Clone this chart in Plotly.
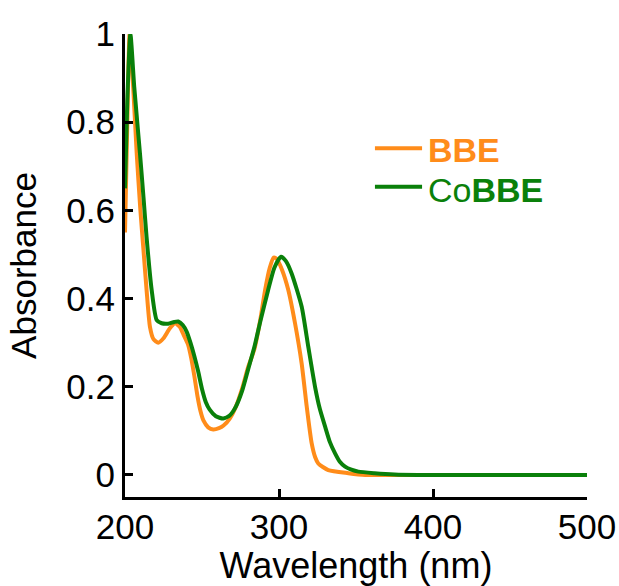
import plotly.graph_objects as go

# ---- data ----
bbe_x = [200, 201.5, 203, 205, 207.6, 210, 212, 214, 216.2, 218.5, 221.6, 225, 229, 232.5,
         235.5, 238, 241, 243, 245, 247, 249, 251, 254, 257.3, 261, 264, 268, 272, 276, 280,
         284, 288, 291, 294, 296.5, 298.5, 302, 306, 310.4, 314.7, 318, 321.2, 323.5,
         325.5, 332, 345, 356, 380, 500]
bbe_y = [0.55, 0.80, 1.0, 0.90, 0.73, 0.60, 0.51, 0.42, 0.336, 0.308, 0.300, 0.310, 0.332, 0.344,
         0.336, 0.318, 0.295, 0.265, 0.225, 0.18, 0.145, 0.123, 0.108, 0.103, 0.106, 0.112, 0.128,
         0.155, 0.195, 0.245, 0.285, 0.355, 0.42, 0.47, 0.493, 0.49, 0.465, 0.42, 0.344, 0.253,
         0.155, 0.072, 0.04, 0.026, 0.011, 0.004, 0.0, 0.0, 0.0]

cobbe_x = [200, 201.5, 203.5, 206, 209.7, 212, 214, 217.3, 220.6, 223.8, 228, 232, 234.6,
           237.5, 240, 242.5, 245, 247.5, 250, 252.5, 255, 259, 263.8, 268, 272, 276, 280,
           284, 288, 293, 297, 301.3, 304.5, 308.2, 314.7, 319, 323.4, 326.5, 329.9, 333,
           336.4, 339.5, 342.9, 347, 351.5, 362, 375, 390, 500]
cobbe_y = [0.65, 0.85, 1.0, 0.88, 0.73, 0.63, 0.54, 0.42, 0.351, 0.344, 0.343, 0.347, 0.348,
           0.34, 0.325, 0.30, 0.27, 0.235, 0.195, 0.165, 0.148, 0.133, 0.128, 0.135, 0.155, 0.19,
           0.24, 0.29, 0.35, 0.42, 0.47, 0.495, 0.485, 0.457, 0.382, 0.291, 0.20, 0.15, 0.11,
           0.075, 0.049, 0.03, 0.019, 0.012, 0.0075, 0.004, 0.001, 0.0, 0.0]

x_ticks = [200, 300, 400, 500]
y_ticks = [0, 0.2, 0.4, 0.6, 0.8, 1]
y_tick_text = ["0", "0.2", "0.4", "0.6", "0.8", "1"]

ORANGE = "#FF8C1A"
GREEN = "#0A800A"
FONT = "Arial, Liberation Sans, sans-serif"

fig = go.Figure()
fig.add_trace(go.Scatter(x=bbe_x, y=bbe_y, mode="lines", name="BBE",
                         line=dict(color=ORANGE, width=4, shape="spline", smoothing=0.6),
                         showlegend=False))
fig.add_trace(go.Scatter(x=cobbe_x, y=cobbe_y, mode="lines", name="CoBBE",
                         line=dict(color=GREEN, width=4, shape="spline", smoothing=0.6),
                         showlegend=False))

axis_common = dict(showline=True, linewidth=3, linecolor="black", ticks="inside",
                   ticklen=8, tickwidth=3, tickcolor="black", showgrid=False,
                   zeroline=False, automargin=False,
                   tickfont=dict(family=FONT, size=35, color="black"))

fig.update_xaxes(range=[200, 500], tickvals=x_ticks, ticklabelstandoff=-3,
                 title=dict(text="Wavelength (nm)", font=dict(family=FONT, size=36, color="black"),
                            standoff=0),
                 **axis_common)
fig.update_yaxes(range=[-0.05, 1.0], tickvals=y_ticks, ticktext=y_tick_text,
                 title=dict(text="Absorbance", font=dict(family=FONT, size=35, color="black"),
                            standoff=20),
                 **axis_common)

# legend drawn manually
fig.add_shape(type="line", xref="paper", yref="paper", x0=0.541, x1=0.643, y0=0.753, y1=0.753,
              line=dict(color=ORANGE, width=4))
fig.add_shape(type="line", xref="paper", yref="paper", x0=0.541, x1=0.643, y0=0.670, y1=0.670,
              line=dict(color=GREEN, width=4))
fig.add_annotation(xref="paper", yref="paper", x=0.652, y=0.7505, xanchor="left", yanchor="middle",
                   text="<b>BBE</b>", showarrow=False,
                   font=dict(family=FONT, size=34, color=ORANGE))
fig.add_annotation(xref="paper", yref="paper", x=0.652, y=0.663, xanchor="left", yanchor="middle",
                   text="Co<b>BBE</b>", showarrow=False,
                   font=dict(family=FONT, size=34, color=GREEN))

fig.update_layout(width=619, height=586, margin=dict(l=125, r=32, t=34, b=89),
                  plot_bgcolor="white", paper_bgcolor="white",
                  font=dict(family=FONT, color="black"))

fig.write_html("out.html")
